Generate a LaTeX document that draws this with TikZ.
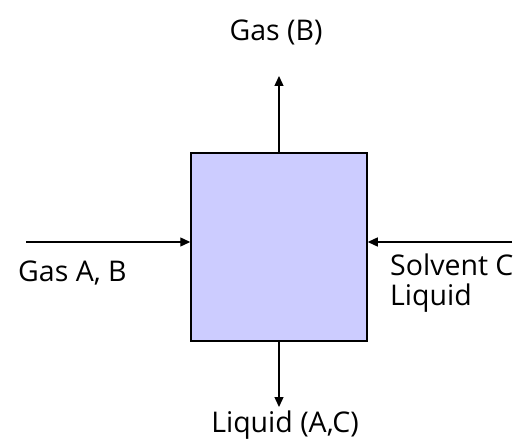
\documentclass[tikz,border=0pt]{standalone}
\usepackage{fontspec}
\setmainfont{Open Sans}
\usetikzlibrary{arrows.meta,positioning,calc}
\definecolor{boxlav}{RGB}{204,204,255}
\begin{document}
\begin{tikzpicture}[
  x=1pt, y=-1pt,
  every node/.style={font=\fontsize{28.5}{30}\selectfont, inner sep=0pt},
  unitbox/.style={draw=black, line width=1.5pt, fill=boxlav, minimum width=176pt, minimum height=188pt},
  flow/.style={-{Triangle[length=10pt,width=9pt]}, line width=1.3pt},
]
\useasboundingbox (0,0) rectangle (531,441);

% Unit
\node[unitbox] (unit) at (279,247) {};

% Stream ends
\coordinate (gastop) at (279,76);
\coordinate (gasin) at (26,242);
\coordinate (solvin) at (512,242);
\coordinate (liqout) at (279,407);

% Labels
\node (lgastop) at (276,32) {Gas (B)};
\node[anchor=west] (lgasin) at (18,273) {Gas A, B};
\node[anchor=north west, align=left] (lsolvin) at (390,254) {Solvent C\\Liquid};
\node (lliqout) at (285,425) {Liquid (A,C)};

% Arrows
\draw[flow] (unit.north) -- (gastop);
\draw[flow] (gasin) -- (gasin -| unit.west);
\draw[flow] (solvin) -- (solvin -| unit.east);
\draw[flow] (unit.south) -- (liqout);

\end{tikzpicture}
\end{document}
